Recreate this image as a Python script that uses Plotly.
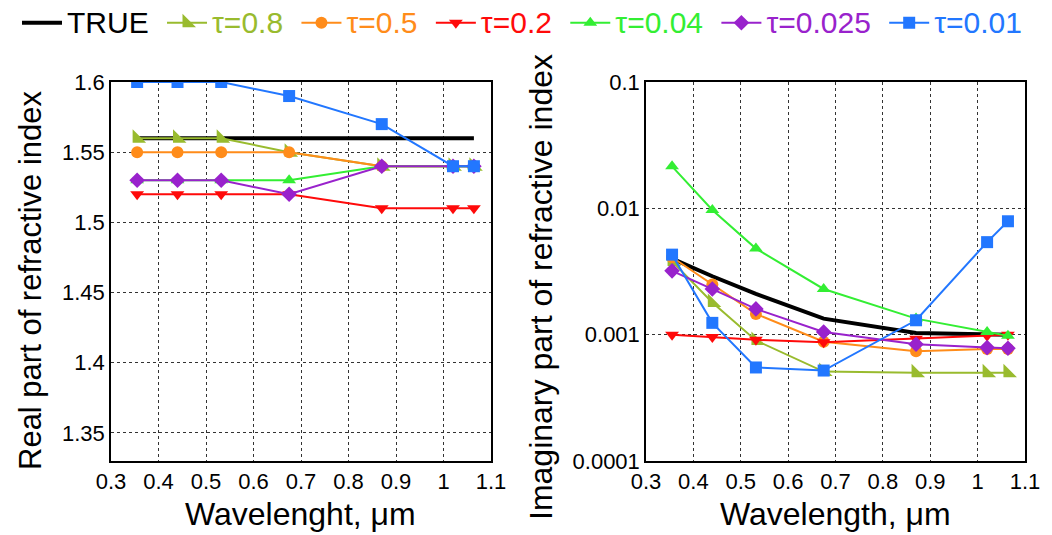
import plotly.graph_objects as go
from plotly.subplots import make_subplots

wavelength = [0.355, 0.44, 0.532, 0.675, 0.87, 1.02, 1.064]

series_names = ["TRUE", "τ=0.8", "τ=0.5", "τ=0.2", "τ=0.04", "τ=0.025", "τ=0.01"]

real_true = [1.56, 1.56, 1.56, 1.56, 1.56, 1.56, 1.56]
real_t08 = [1.56, 1.56, 1.56, 1.55, 1.54, 1.54, 1.54]
real_t05 = [1.55, 1.55, 1.55, 1.55, 1.54, 1.54, 1.54]
real_t02 = [1.52, 1.52, 1.52, 1.52, 1.51, 1.51, 1.51]
real_t004 = [1.53, 1.53, 1.53, 1.53, 1.54, 1.54, 1.54]
real_t0025 = [1.53, 1.53, 1.53, 1.52, 1.54, 1.54, 1.54]
real_t001 = [1.60, 1.60, 1.60, 1.59, 1.57, 1.54, 1.54]

imag_true = [0.0040, 0.0029, 0.0021, 0.00134, 0.00103, 0.0010, 0.0010]
imag_t08 = [0.0038, 0.0018, 0.0009, 0.00051, 0.0005, 0.0005, 0.0005]
imag_t05 = [0.0041, 0.0025, 0.00146, 0.00088, 0.00074, 0.00077, 0.00077]
imag_t02 = [0.0010, 0.00096, 0.00091, 0.00087, 0.00093, 0.00098, 0.0010]
imag_t004 = [0.0215, 0.0097, 0.0048, 0.0023, 0.00134, 0.00105, 0.00098]
imag_t0025 = [0.0032, 0.0023, 0.0016, 0.00105, 0.00084, 0.00079, 0.00078]
imag_t001 = [0.0043, 0.00124, 0.00055, 0.00052, 0.0013, 0.0054, 0.0079]

x_ticks = [0.3, 0.4, 0.5, 0.6, 0.7, 0.8, 0.9, 1.0, 1.1]
x_ticktext = ["0.3", "0.4", "0.5", "0.6", "0.7", "0.8", "0.9", "1", "1.1"]
real_ticks = [1.35, 1.4, 1.45, 1.5, 1.55, 1.6]
real_ticktext = ["1.35", "1.4", "1.45", "1.5", "1.55", "1.6"]
imag_ticks = [0.0001, 0.001, 0.01, 0.1]
imag_ticktext = ["0.0001", "0.001", "0.01", "0.1"]

real_data = [real_true, real_t08, real_t05, real_t02, real_t004, real_t0025, real_t001]
imag_data = [imag_true, imag_t08, imag_t05, imag_t02, imag_t004, imag_t0025, imag_t001]

colors = ["#000000", "#99BB2E", "#FF8C1A", "#FF0A0A", "#33EE33", "#9922CC", "#2277FF"]
symbols = [None, "triangle-sw", "circle", "triangle-down", "triangle-up", "diamond", "square"]
marker_sizes = [0, 15, 12, 12, 12, 12, 12]
legend_pad = ["&nbsp;", "&nbsp;", "&nbsp;", "&nbsp;", "&nbsp;", "&nbsp;", ""]

FONT = "Liberation Sans, Arial, sans-serif"

W, H = 1052, 535


def px(xp):
    return xp / W


def py(yp):
    return 1 - yp / H


fig = make_subplots(rows=1, cols=2)

for i, name in enumerate(series_names):
    is_true = (i == 0)
    for col, ydata in ((1, real_data[i]), (2, imag_data[i])):
        fig.add_trace(
            go.Scatter(
                x=wavelength,
                y=ydata,
                mode="lines" if is_true else "lines+markers",
                name=(f"<span style='color:{colors[i]};font-size:30px'>{name}</span>"
                      f"<span style='font-size:30px'>{legend_pad[i]}</span>"),
                legendgroup=name,
                showlegend=(col == 1),
                line=dict(color=colors[i], width=4 if is_true else 2),
                marker=None if is_true else dict(symbol=symbols[i], size=marker_sizes[i], color=colors[i]),
            ),
            row=1, col=col,
        )

axis_common = dict(
    showline=True, linecolor="black", linewidth=1.5, mirror=True,
    showgrid=True, gridcolor="#333333", griddash="3px,3px", gridwidth=1,
    zeroline=False, ticks="", automargin=False,
    tickfont=dict(family=FONT, size=22, color="black"),
)

fig.update_xaxes(range=[0.3, 1.1], tickvals=x_ticks, ticktext=x_ticktext, **axis_common)
fig.update_yaxes(**axis_common)
fig.update_yaxes(range=[1.33, 1.6], tickvals=real_ticks, ticktext=real_ticktext, row=1, col=1)
fig.update_yaxes(type="log", range=[-4, -1], tickvals=imag_ticks, ticktext=imag_ticktext, row=1, col=2)

fig.update_layout(
    width=W, height=H,
    margin=dict(l=0, r=0, t=0, b=0),
    plot_bgcolor="white", paper_bgcolor="white",
    font=dict(family=FONT, color="black"),
    xaxis=dict(domain=[px(111), px(491)]),
    xaxis2=dict(domain=[px(646), px(1025)]),
    yaxis=dict(domain=[py(461), py(82)]),
    yaxis2=dict(domain=[py(461), py(82)]),
    legend=dict(
        orientation="h", x=px(17), xanchor="left", y=1.0, yanchor="top",
        font=dict(family=FONT, size=25), itemwidth=40, tracegroupgap=0,
        bgcolor="rgba(0,0,0,0)",
    ),
    annotations=[
        dict(text="Real part of refractive index", x=px(30), y=py(280), xref="paper", yref="paper",
             textangle=-90, showarrow=False, font=dict(family=FONT, size=31, color="black"),
             xanchor="center", yanchor="middle"),
        dict(text="Imaginary part of refractive index", x=px(541), y=py(287), xref="paper", yref="paper",
             textangle=-90, showarrow=False, font=dict(family=FONT, size=32, color="black"),
             xanchor="center", yanchor="middle"),
        dict(text="Wavelenght, μm", x=px(300), y=py(514), xref="paper", yref="paper",
             showarrow=False, font=dict(family=FONT, size=32, color="black"),
             xanchor="center", yanchor="middle"),
        dict(text="Wavelength, μm", x=px(835), y=py(514), xref="paper", yref="paper",
             showarrow=False, font=dict(family=FONT, size=32, color="black"),
             xanchor="center", yanchor="middle"),
    ],
)

fig.write_html(
    "out.html",
    config={"displayModeBar": False},
    post_script="document.body.style.margin='0';",
)
